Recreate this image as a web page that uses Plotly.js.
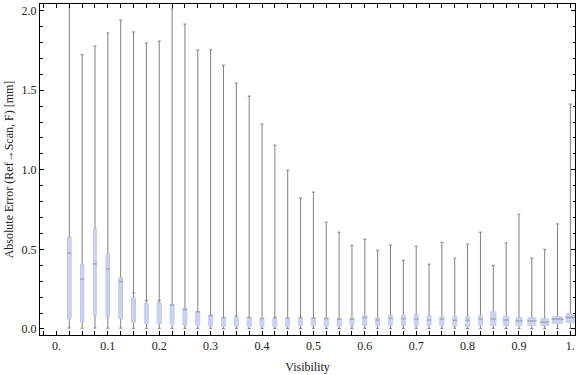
<!DOCTYPE html>
<html><head><meta charset="utf-8">
<script src="https://cdn.plot.ly/plotly-3.0.1.min.js"></script>
<style>html,body{margin:0;padding:0;background:#fff}#chart{width:576px;height:375px}</style>
</head><body><div id="chart"></div>
<script>
// ---- data ----
const visibility = [0.025,0.05,0.075,0.1,0.125,0.15,0.175,0.2,0.225,0.25,
  0.275,0.3,0.325,0.35,0.375,0.4,0.425,0.45,0.475,0.5,
  0.525,0.55,0.575,0.6,0.625,0.65,0.675,0.7,0.725,0.75,
  0.775,0.8,0.825,0.85,0.875,0.9,0.925,0.95,0.975,1.0];
const whiskerMin = [0.006,0.005,0.006,0.005,0.005,0.004,0.004,0.004,0.004,0.004,
  0.004,0.004,0.003,0.004,0.003,0.003,0.003,0.003,0.004,0.004,
  0.003,0.003,0.004,0.004,0.004,0.004,0.004,0.004,0.003,0.004,
  0.004,0.003,0.004,0.004,0.003,0.002,0.002,0.002,0.002,0.002];
const q1 = [0.065,0.046,0.088,0.077,0.065,0.041,0.035,0.035,0.028,0.025,
  0.022,0.020,0.016,0.020,0.016,0.016,0.014,0.014,0.022,0.020,
  0.016,0.016,0.024,0.023,0.022,0.024,0.024,0.023,0.022,0.022,
  0.020,0.016,0.022,0.022,0.022,0.022,0.022,0.022,0.035,0.041];
const q3 = [0.577,0.403,0.627,0.472,0.321,0.194,0.158,0.163,0.152,0.127,
  0.108,0.083,0.070,0.070,0.070,0.065,0.064,0.064,0.064,0.070,
  0.070,0.064,0.070,0.085,0.070,0.083,0.083,0.089,0.083,0.077,
  0.077,0.077,0.083,0.108,0.077,0.070,0.070,0.064,0.077,0.096];
const whiskerMax = [2.35,1.723,1.778,1.860,1.941,1.866,1.797,1.809,2.011,1.916,
  1.753,1.753,1.658,1.545,1.463,1.287,1.155,0.998,0.822,0.860,
  0.671,0.608,0.526,0.564,0.495,0.526,0.432,0.520,0.407,0.545,
  0.445,0.533,0.608,0.400,0.541,0.721,0.445,0.501,0.660,1.413];
const meanMark = [0.476,0.314,0.409,0.377,0.298,0.226,0.179,0.179,0.150,0.123,
  0.108,0.085,0.072,0.083,0.072,0.066,0.072,0.068,0.072,0.068,
  0.064,0.062,0.062,0.072,0.056,0.066,0.064,0.062,0.056,0.062,
  0.054,0.054,0.062,0.062,0.056,0.050,0.050,0.043,0.062,0.072];

// ---- styles ----
const boxPx = [4,4,4,4,4,4,5,5,5,5, 5,5,5,5,5,5,5,5,5,5,
  5,5,5,5,5,5,5,5,5,5, 5,5,5,6.3,6.5,7,9,9,11,9.5];
const margin = {l:40, r:1, t:4, b:40};
const W = 576, H = 375;
const xRange = [-0.032, 1.009], yRange = [-0.038, 2.042];
const pxPerX = (W - margin.l - margin.r) / (xRange[1] - xRange[0]);
const boxFill = '#c9d1f5';
const whiskerColor = '#808080';
const font = 'Liberation Serif, Times New Roman, serif';

const traces = [];
for (let i = 0; i < visibility.length; i++) {
  traces.push({
    type:'box', orientation:'v', x:[visibility[i]],
    q1:[q1[i]], median:[q1[i]], q3:[q3[i]],
    lowerfence:[whiskerMin[i]], upperfence:[whiskerMax[i]],
    width: 3 / pxPerX, whiskerwidth: 1,
    line:{color:whiskerColor, width:1}, fillcolor:'rgba(0,0,0,0)',
    boxpoints:false, showlegend:false, hoverinfo:'skip'
  });
  traces.push({
    type:'box', orientation:'v', x:[visibility[i]],
    q1:[q1[i]], median:[q1[i]], q3:[q3[i]],
    lowerfence:[q1[i]], upperfence:[q3[i]],
    width: (boxPx[i] - 1) / pxPerX, whiskerwidth: 0,
    line:{color:boxFill, width:1}, fillcolor:boxFill,
    boxpoints:false, showlegend:false, hoverinfo:'skip'
  });
}
traces.push({
  type:'scatter', mode:'markers', x:visibility, y:meanMark,
  marker:{symbol:'line-ew', size:boxPx.map(p => Math.max(p - 2, 3)),
    line:{color:'rgba(115,115,115,0.6)', width:1.5}},
  showlegend:false, hoverinfo:'skip'
});

const tickFont = {family:font, size:12, color:'#222'};
const layout = {
  width:W, height:H, margin:margin, paper_bgcolor:'#fff', plot_bgcolor:'#fff',
  boxmode:'overlay', showlegend:false,
  xaxis:{
    range:xRange, tick0:0, dtick:0.1, labelalias:{'0':'0.', '1':'1.'},
    ticks:'inside', ticklen:4, tickcolor:'#000', tickwidth:1,
    showline:true, linecolor:'#000', linewidth:1, mirror:'allticks',
    showgrid:false, zeroline:false, tickfont:tickFont,
    minor:{tick0:0, dtick:0.025, ticks:'inside', ticklen:4, tickcolor:'#000', showgrid:false},
    title:{text:'Visibility', font:{family:font, size:12, color:'#222'}, standoff:10}
  },
  yaxis:{
    range:yRange, tick0:0, dtick:0.5, tickformat:'.1f',
    ticks:'inside', ticklen:4, tickcolor:'#000', tickwidth:1,
    showline:true, linecolor:'#000', linewidth:1, mirror:'allticks',
    showgrid:false, zeroline:false, tickfont:tickFont,
    minor:{tick0:0, dtick:0.1, ticks:'inside', ticklen:2.5, tickcolor:'#000', showgrid:false},
    title:{text:'Absolute Error (Ref\u2192Scan, F) [mm]', font:{family:font, size:12, color:'#222'}, standoff:5}
  }
};
Plotly.newPlot('chart', traces, layout, {staticPlot:true, displayModeBar:false});
</script></body></html>
